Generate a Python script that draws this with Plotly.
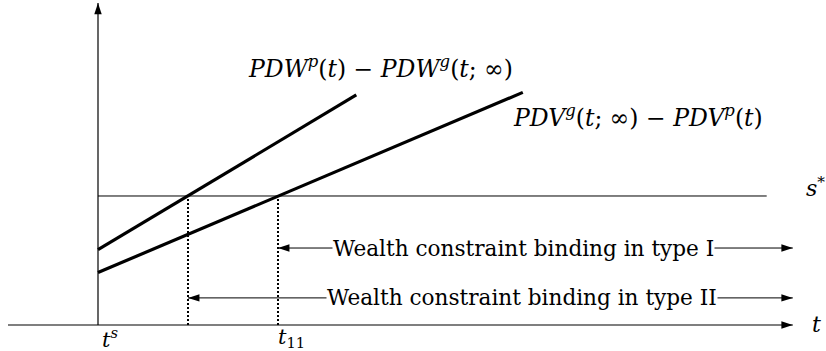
import plotly.graph_objects as go

# Time points (t^s = 0) and threshold level
t_s = 0.0
t_cross_I = 1.0      # where PDW gap reaches s*
t_11 = 2.0           # where PDV gap reaches s*
s_star = 3.0

# Upper line: PDW^p(t) - PDW^g(t; inf)
pdw_t = [0.0, 2.87]
pdw_v = [1.75, 5.35]

# Lower line: PDV^g(t; inf) - PDV^p(t)
pdv_t = [0.0, 4.72]
pdv_v = [1.22, 5.41]

# Axis extents and range arrows
t_axis_start, t_axis_end = -1.0, 7.72
v_axis_top = 7.49
s_line_end = 7.43
type1_level = 1.79
type2_level = 0.63

TEXT_FONT = "DejaVu Serif"
MATH_FONT = "DejaVu Serif"
BLACK = "#000000"

fig = go.Figure()


def seg(xs, ys, width=1.0, dash=None):
    line = dict(color=BLACK, width=width)
    if dash:
        line["dash"] = dash
    fig.add_trace(go.Scatter(x=xs, y=ys, mode="lines", line=line, hoverinfo="skip"))


def heads(xs, ys, angles, size=12):
    # arrow symbols put their tip on the data point
    fig.add_trace(go.Scatter(x=xs, y=ys, mode="markers", hoverinfo="skip",
                             marker=dict(symbol="arrow", size=size, angle=angles,
                                         color=BLACK, line=dict(width=0))))


# threshold line s*
seg([t_s, s_line_end], [s_star, s_star])

# dotted drop lines at the crossing points
for tc in (t_cross_I, t_11):
    seg([tc, tc], [0, s_star], width=2, dash="2px,2px")

# the two thick gap lines
seg(pdw_t, pdw_v, width=3.2)
seg(pdv_t, pdv_v, width=3.2)

# axes
seg([t_axis_start, t_axis_end], [0, 0], width=1.2)
seg([t_s, t_s], [0, v_axis_top], width=1.2)
heads([t_axis_end, t_s], [0, v_axis_top], [90, 0])

# binding ranges (double-headed)
seg([t_11, t_axis_end], [type1_level, type1_level])
seg([t_cross_I, t_axis_end], [type2_level, type2_level])
heads([t_11, t_axis_end, t_cross_I, t_axis_end],
      [type1_level, type1_level, type2_level, type2_level],
      [270, 90, 270, 90])

ann = []


def label(x, y, text, size=20, family=MATH_FONT, xanchor="center",
          yanchor="middle", bg=None):
    d = dict(x=x, y=y, xref="x", yref="y", text=text, showarrow=False,
             xanchor=xanchor, yanchor=yanchor,
             font=dict(family=family, size=size, color=BLACK))
    if bg:
        d.update(bgcolor=bg, borderpad=0)
    ann.append(d)


label(4.73, type1_level, "Wealth constraint binding in type I",
      size=21.6, family=TEXT_FONT, bg="white")
label(4.71, type2_level, "Wealth constraint binding in type II",
      size=21.6, family=TEXT_FONT, bg="white")

label(3.14, 5.98,
      "<i>PDW</i><sup><i>p</i></sup>(<i>t</i>) − <i>PDW</i><sup><i>g</i></sup>(<i>t</i>; ∞)",
      size=23.5)
label(6.0, 4.86,
      "<i>PDV</i><sup><i>g</i></sup>(<i>t</i>; ∞) − <i>PDV</i><sup><i>p</i></sup>(<i>t</i>)",
      size=23.5)

label(t_s + 0.02, -0.3, "<i>t</i><sup><i>s</i></sup>", size=21, xanchor="left")
label(t_11 - 0.02, -0.3, "<i>t</i><sub>11</sub>", size=21, xanchor="left")
label(7.97, s_star + 0.2, "<i>s</i><sup>*</sup>", size=22)
label(7.98, 0, "<i>t</i>", size=22)

fig.update_layout(
    width=826, height=351,
    margin=dict(l=0, r=0, t=0, b=0),
    paper_bgcolor="white", plot_bgcolor="white",
    showlegend=False,
    xaxis=dict(range=[-1.0889, 8.0889], visible=False, fixedrange=True),
    yaxis=dict(range=[-0.605, 7.558], visible=False, fixedrange=True),
    annotations=ann,
)

fig.write_html("out.html")
